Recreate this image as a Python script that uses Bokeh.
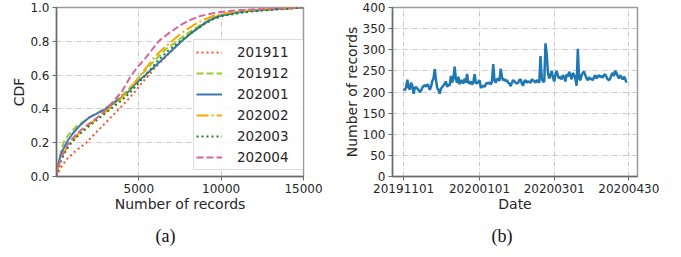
import pandas as pd
from bokeh.plotting import figure
from bokeh.models import (FixedTicker, Range1d, Legend, LegendItem, Title,
                          PrintfTickFormatter, DatetimeTickFormatter)
from bokeh.layouts import row
from bokeh.embed import file_html
from bokeh.resources import INLINE

# ---------------- data: CDF panel (a) ----------------
cdf_levels = [0, 0.05, 0.1, 0.15, 0.2, 0.25, 0.3, 0.35, 0.4, 0.45, 0.5, 0.55,
              0.6, 0.65, 0.7, 0.75, 0.8, 0.85, 0.9, 0.93, 0.95, 0.97, 0.98, 0.99, 1.0]
x_201911 = [0, 250, 600, 1150, 1800, 2300, 2800, 3300, 3800, 4300, 4750, 5150,
            5600, 6050, 6550, 7050, 7600, 8200, 8900, 9400, 9900, 10800, 11500, 12800, 15000]
x_201912 = [0, 60, 150, 280, 420, 750, 1250, 2000, 2900, 3600, 4200, 4700,
            5150, 5600, 6100, 6600, 7300, 8000, 8800, 9300, 9800, 10800, 11600, 13000, 15000]
x_202001 = [0, 80, 180, 350, 600, 950, 1400, 2000, 3000, 3700, 4350, 4800,
            5400, 5950, 6500, 7050, 7600, 8200, 8900, 9400, 9900, 11000, 11800, 13300, 15000]
x_202002 = [0, 100, 250, 500, 850, 1300, 1900, 2550, 3200, 3800, 4300, 4700,
            5100, 5500, 5900, 6400, 7000, 7600, 8400, 9000, 9500, 10500, 11300, 12700, 15000]
x_202003 = [0, 120, 300, 550, 900, 1400, 2000, 2650, 3300, 3950, 4500, 4950,
            5400, 5850, 6300, 6850, 7500, 8200, 8950, 9500, 10100, 11300, 12200, 13600, 15000]
x_202004 = [0, 100, 250, 450, 750, 1200, 1800, 2500, 3050, 3500, 3950, 4250,
            4550, 4950, 5400, 5800, 6200, 6850, 7600, 8200, 8750, 9700, 10500, 12200, 15000]
series_names = ["201911", "201912", "202001", "202002", "202003", "202004"]
series_x = [x_201911, x_201912, x_202001, x_202002, x_202003, x_202004]
series_colors = ["#ff4f1f", "#9acd32", "#3a78b5", "#ffa500", "#138a13", "#d5679f"]
series_dashes = ["2 3", "7 3", "solid", "12 3 2 3", "2 3", "7 3"]
cdf_xticks = [5000, 10000, 15000]
cdf_yticks = [0.0, 0.2, 0.4, 0.6, 0.8, 1.0]

# ---------------- data: daily records panel (b) ----------------
start_date = "2019-11-01"
daily_nov = [208, 204, 212, 229, 210, 206, 222, 215, 196, 210, 212, 208, 205, 200, 203,
             210, 214, 216, 213, 218, 215, 205, 212, 226, 232, 254, 228, 210, 205, 196]
daily_dec = [208, 212, 215, 220, 225, 212, 218, 215, 238, 222, 232, 260, 230, 222, 236, 218,
             228, 225, 220, 232, 222, 243, 222, 220, 225, 218, 222, 242, 222, 220, 224]
daily_jan = [228, 210, 212, 215, 212, 218, 222, 220, 223, 218, 225, 266, 228, 222, 230, 232,
             226, 255, 235, 228, 230, 226, 228, 222, 220, 214, 222, 228, 225, 222, 220]
daily_feb = [222, 228, 230, 220, 215, 225, 228, 222, 225, 224, 222, 230, 228, 225, 222,
             228, 225, 222, 285, 232, 225, 224, 315, 290, 245, 232, 240, 250, 235]
daily_mar = [225, 240, 250, 238, 232, 236, 230, 240, 235, 225, 242, 236, 248, 240, 230, 245,
             240, 232, 215, 302, 232, 228, 240, 245, 248, 240, 232, 228, 235, 230, 232]
daily_apr = [228, 235, 240, 232, 236, 240, 235, 238, 234, 240, 242, 236, 230, 228,
             232, 240, 245, 238, 250, 245, 238, 232, 240, 235, 230, 236, 232, 222]
date_ticks = ["20191101", "20200101", "20200301", "20200430"]
count_yticks = [0, 50, 100, 150, 200, 250, 300, 350, 400]

daily_values = daily_nov + daily_dec + daily_jan + daily_feb + daily_mar + daily_apr
dates = pd.date_range(start_date, periods=len(daily_values), freq="D")

FONT = "DejaVu Sans"
TXT = "#262626"
GRID = "#c8c8c8"
SPINE = "#6a6a6a"


def style(p):
    p.outline_line_color = "#9a9a9a"
    p.outline_line_width = 1.5
    for ax in (p.xaxis[0], p.yaxis[0]):
        ax.axis_line_color = SPINE
        ax.axis_line_width = 1.5
        ax.major_tick_line_color = SPINE
        ax.major_tick_line_width = 1
        ax.major_tick_in = 0
        ax.major_tick_out = 4
        ax.minor_tick_line_color = None
        ax.major_label_text_font = FONT
        ax.major_label_text_font_size = "12px"
        ax.major_label_text_color = TXT
        ax.major_label_standoff = 3
        ax.axis_label_text_font = FONT
        ax.axis_label_text_font_size = "14px"
        ax.axis_label_text_font_style = "normal"
        ax.axis_label_text_color = TXT
        ax.axis_label_standoff = 0
    for g in (p.xgrid[0], p.ygrid[0]):
        g.grid_line_color = GRID
        g.grid_line_dash = "5 2 1 2"
        g.grid_line_width = 1


def caption(p, text):
    p.add_layout(Title(text=text, align="left", offset=99, text_font="Liberation Serif",
                       text_font_size="18px", text_font_style="normal",
                       text_color="#111111", standoff=19), "below")


# ---------------- panel (a) ----------------
p1 = figure(width=340, height=257, x_range=Range1d(0, 15000), y_range=Range1d(0, 1.0),
            output_backend="svg", toolbar_location=None,
            min_border_left=56, min_border_right=37, min_border_top=7, min_border_bottom=81)
items = []
for name, xs, col, dash in zip(series_names, series_x, series_colors, series_dashes):
    r = p1.line(xs, cdf_levels, line_color=col, line_width=2, line_dash=dash)
    items.append(LegendItem(label=name, renderers=[r]))
style(p1)
p1.xaxis.ticker = FixedTicker(ticks=cdf_xticks)
p1.yaxis.ticker = FixedTicker(ticks=cdf_yticks)
p1.yaxis.formatter = PrintfTickFormatter(format="%.1f")
p1.xgrid.ticker = FixedTicker(ticks=cdf_xticks)
p1.ygrid.ticker = FixedTicker(ticks=cdf_yticks)
p1.xaxis.axis_label = "Number of records"
p1.yaxis.axis_label = "CDF"
legend = Legend(items=items, location=(137, 6), margin=0, padding=2, spacing=1,
                glyph_width=26, glyph_height=20, label_height=20, label_width=66,
                label_standoff=15, label_text_font=FONT, label_text_font_size="13.5px",
                label_text_color=TXT, border_line_color="#bbbbbb", border_line_width=1,
                background_fill_color="white", background_fill_alpha=0.85)
p1.add_layout(legend, "center")
caption(p1, "(a)")

# ---------------- panel (b) ----------------
pad = pd.Timedelta(days=(len(daily_values) - 1) * 0.05)
p2 = figure(width=341, height=257, x_axis_type="datetime",
            x_range=Range1d(dates[0] - pad, dates[-1] + pad), y_range=Range1d(0, 400),
            output_backend="svg", toolbar_location=None,
            min_border_left=51, min_border_right=44, min_border_top=7, min_border_bottom=81)
p2.line(dates, daily_values, line_color="#1f77b4", line_width=2.5)
style(p2)
tick_ms = [pd.Timestamp(t).timestamp() * 1000 for t in date_ticks]
p2.xaxis.ticker = FixedTicker(ticks=tick_ms)
p2.xgrid.ticker = FixedTicker(ticks=tick_ms)
fmt = "%Y%m%d"
p2.xaxis.formatter = DatetimeTickFormatter(microseconds=fmt, milliseconds=fmt, seconds=fmt,
                                           minsec=fmt, minutes=fmt, hourmin=fmt, hours=fmt,
                                           days=fmt, months=fmt, years=fmt)
p2.yaxis.ticker = FixedTicker(ticks=count_yticks)
p2.ygrid.ticker = FixedTicker(ticks=count_yticks)
p2.xaxis.axis_label = "Date"
p2.yaxis.axis_label = "Number of records"
caption(p2, "(b)")

layout = row(p1, p2)
open("out.html", "w").write(file_html(layout, INLINE))
